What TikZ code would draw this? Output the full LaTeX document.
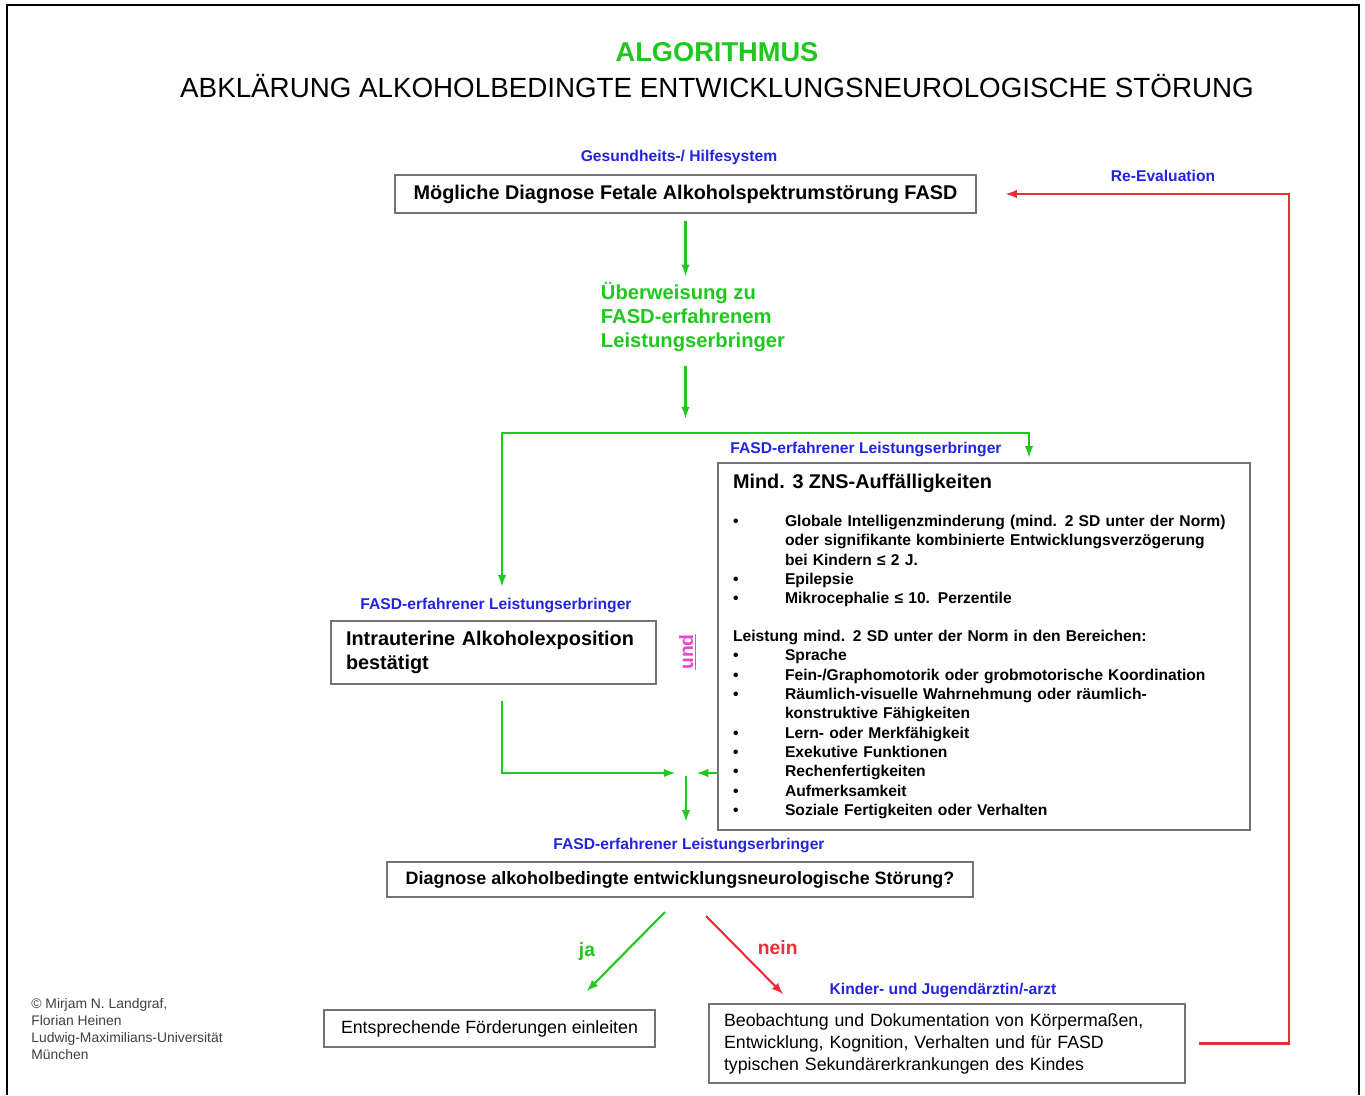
\documentclass[tikz,border=0pt]{standalone}
\usepackage{fontspec}
\setmainfont{Liberation Sans}
\usetikzlibrary{positioning}
\definecolor{fasdgreen}{RGB}{30,200,30}
\definecolor{fasdblue}{RGB}{35,35,225}
\definecolor{fasdred}{RGB}{235,45,55}
\definecolor{fasdpink}{RGB}{235,70,205}
\newcommand{\fsz}[2]{\fontsize{#1}{#2}\selectfont}
\newcommand{\bul}{\makebox[1.04cm][l]{\textbullet}}
\newcommand{\hang}{\hspace*{1.04cm}}

\begin{document}
\begin{tikzpicture}[x = 0.02cm, y = -0.02cm, -latex, semithick,
                    box/.style = {draw = black!55,
                                  line width = 0.9pt,
                                  fill = white,
                                  inner sep = 0pt},
                    who/.style = {text = fasdblue,
                                  font = \fsz{8.9}{10.5}\bfseries},
                    link/.style = {fasdgreen, line width = 1.2pt},
                    back/.style = {fasdred, line width = 1.2pt}]

\useasboundingbox (0,0) rectangle (1365,1095);
\draw[-, line width = 0.6pt] (7,1095) -- (7,5) -- (1359,5) -- (1359,1095);

% title
\node[text = fasdgreen, font = \fsz{15.5}{18}\bfseries] (head) at (717,52) {ALGORITHMUS};
\node[font = \fsz{15.8}{18}] (subhead) at (717,86) {ABKLÄRUNG ALKOHOLBEDINGTE ENTWICKLUNGSNEUROLOGISCHE STÖRUNG};

% boxes
\node[box, minimum width = 11.62cm, minimum height = 0.76cm, font = \fsz{11.3}{13}\bfseries] (poss) at (685.5,194) {Mögliche Diagnose Fetale Alkoholspektrumstörung FASD};
\node[who] (lblposs) at (679,157) {Gesundheits-/ Hilfesystem};

\node[text = fasdgreen, align = left, font = \fsz{11.5}{13.7}\bfseries] (refer) at (693,317) {Überweisung zu\\FASD-erfahrenem\\Leistungserbringer};

\node[box, minimum width = 10.64cm, minimum height = 7.34cm, text width = 10.04cm, align = left, font = \fsz{8.9}{11}\bfseries] (zns) at (984,646.5)
  {{\fsz{11.3}{13}Mind. 3 ZNS-Auffälligkeiten}\\[10.5pt]
   \bul Globale Intelligenzminderung (mind. 2 SD unter der Norm)\\
   \hang oder signifikante kombinierte Entwicklungsverzögerung\\
   \hang bei Kindern ≤ 2 J.\\
   \bul Epilepsie\\
   \bul Mikrocephalie ≤ 10. Perzentile\\[10.5pt]
   Leistung mind. 2 SD unter der Norm in den Bereichen:\\
   \bul Sprache\\
   \bul Fein-/Graphomotorik oder grobmotorische Koordination\\
   \bul Räumlich-visuelle Wahrnehmung oder räumlich-\\
   \hang konstruktive Fähigkeiten\\
   \bul Lern- oder Merkfähigkeit\\
   \bul Exekutive Funktionen\\
   \bul Rechenfertigkeiten\\
   \bul Aufmerksamkeit\\
   \bul Soziale Fertigkeiten oder Verhalten};
\node[who] (lblzns) at (866,449) {FASD-erfahrener Leistungserbringer};

\node[box, minimum width = 6.5cm, minimum height = 1.26cm, text width = 5.9cm, align = left, font = \fsz{11.3}{13.7}\bfseries] (expo) at (493.5,652.5) {Intrauterine Alkoholexposition\\bestätigt};
\node[who] (lblexpo) at (496,605) {FASD-erfahrener Leistungserbringer};
\node[text = fasdpink, rotate = 90, font = \fsz{11}{13}\bfseries] (und) at (688,652) {\underline{und}};

\node[box, minimum width = 11.72cm, minimum height = 0.7cm, font = \fsz{10.2}{12}\bfseries] (diag) at (680,879.5) {Diagnose alkoholbedingte entwicklungsneurologische Störung?};
\node[who] (lbldiag) at (689,845) {FASD-erfahrener Leistungserbringer};

\node[box, minimum width = 6.62cm, minimum height = 0.74cm, font = \fsz{10.1}{12}] (foerd) at (489.5,1028.5) {Entsprechende Förderungen einleiten};
\node[box, minimum width = 9.52cm, minimum height = 1.58cm, text width = 8.92cm, align = left, font = \fsz{10.1}{12.5}] (beob) at (947,1043.5) {Beobachtung und Dokumentation von Körpermaßen,\\Entwicklung, Kognition, Verhalten und für FASD\\typischen Sekundärerkrankungen des Kindes};
\node[who] (lblbeob) at (943,990) {Kinder- und Jugendärztin/-arzt};
\node[who] (reeval) at (1163,176) {Re-Evaluation};

\node[anchor = north west, align = left, text = black!75, font = \fsz{7.9}{9.7}] (copy) at (25,992) {© Mirjam N. Landgraf,\\Florian Heinen\\Ludwig-Maximilians-Universität\\München};

% connectors
\coordinate (fork) at (685.5,418);
\coordinate (hl) at (502,433);
\coordinate (hr) at (1029,433);
\coordinate (merge) at (686,773);
\coordinate (jafrom) at (665,912);
\coordinate (jato) at (587,991);
\coordinate (neinfrom) at (706,916);
\coordinate (neinto) at (783,994);
\coordinate (rex) at (1289,600);

\draw[link, shorten <= 0.14cm] (poss.south) -- (poss.south |- refer.north);
\draw[link, shorten <= 0.15cm] (poss.south |- refer.south) -- (fork);
\draw[link, latex-latex, shorten <= 0.1cm, shorten >= 0.1cm] (hl |- lblexpo.north) -- (hl) -- (hr) -- (hr |- zns.north);
\draw[link, shorten <= 0.32cm, shorten >= 0.22cm] (expo.south -| hl) |- (merge);
\draw[link, shorten >= 0.22cm] (zns.west |- merge) -- (merge);
\draw[link, shorten <= 0.06cm, shorten >= 0.2cm] (merge) -- (lbldiag.north -| merge);

\draw[link] (jafrom) -- node[left = 0.48cm, text = fasdgreen, font = \fsz{11}{13}\bfseries] {ja} (jato);
\draw[back] (neinfrom) -- node[right = 0.13cm, yshift = 0.14cm, text = fasdred, font = \fsz{11}{13}\bfseries] {nein} (neinto);

\draw[back, shorten <= 0.26cm, shorten >= 0.58cm] (beob.east) -| (rex) |- (poss.east);

\end{tikzpicture}
\end{document}
